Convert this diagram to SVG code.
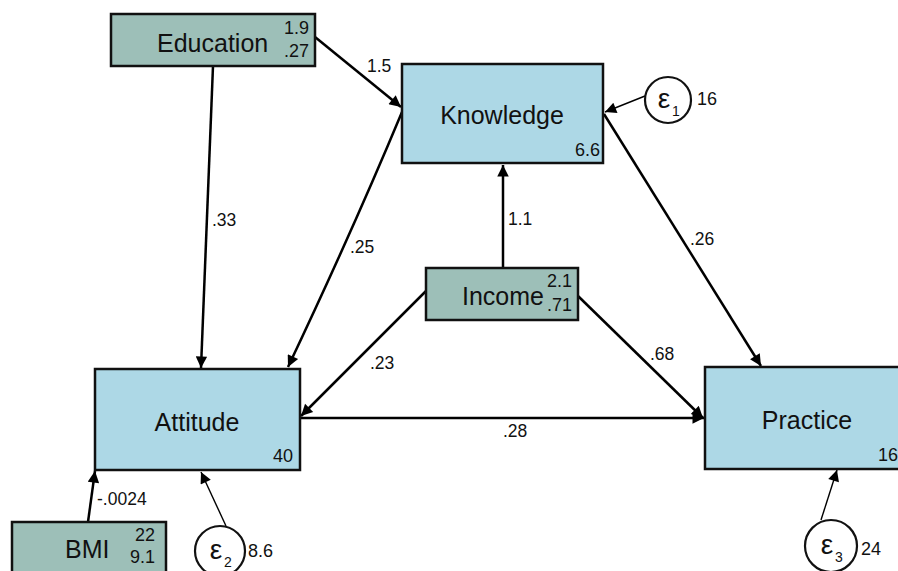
<svg xmlns="http://www.w3.org/2000/svg" width="898" height="571" viewBox="0 0 898 571">
<defs>
<marker id="ah" viewBox="0 0 10 10" refX="10" refY="5" markerWidth="6" markerHeight="4.6" markerUnits="strokeWidth" orient="auto">
<path d="M0,0 L10,5 L0,10 z" fill="#000"/>
</marker>
<marker id="ahs" viewBox="0 0 10 10" refX="10" refY="5" markerWidth="10" markerHeight="8" markerUnits="strokeWidth" orient="auto">
<path d="M0,0 L10,5 L0,10 z" fill="#000"/>
</marker>
</defs>
<style>
text{font-family:"Liberation Sans",Arial,Helvetica,sans-serif;fill:#111;}
.obs{fill:#9dbfb8;stroke:#111;stroke-width:2.5;}
.end{fill:#add8e6;stroke:#111;stroke-width:2.5;}
.err{fill:#fff;stroke:#111;stroke-width:2.2;}
.name{font-size:25px;}
.num{font-size:18px;}
.lbl{font-size:17.5px;}
.eps{font-size:28px;}
.sub{font-size:14px;}
.c{fill:none;stroke:#000;stroke-width:2.5;marker-end:url(#ah);}
.ce{fill:none;stroke:#000;stroke-width:1.4;marker-end:url(#ahs);}
</style>
<rect width="898" height="571" fill="#fff"/>
<g id="connectors">
<path class="c" d="M315,37 L401,107"/>
<path class="c" d="M213,66 L201,368"/>
<path class="c" d="M402,112 Q352,232 288,367"/>
<path class="c" d="M503,268 L503,165"/>
<path class="c" d="M426,291 L301,416"/>
<path class="c" d="M578,296 L703,418"/>
<path class="c" d="M604,114 L761,366"/>
<path class="c" d="M300,418 L704,418"/>
<path class="c" d="M88,522 L95,471"/>
<path class="ce" d="M645,96 L605,112"/>
<path class="ce" d="M226,526 L201,472"/>
<path class="ce" d="M821,520 L837,470"/>
<text class="lbl" x="367" y="72">1.5</text>
<text class="lbl" x="212" y="226">.33</text>
<text class="lbl" x="350" y="253">.25</text>
<text class="lbl" x="508" y="225">1.1</text>
<text class="lbl" x="370" y="369">.23</text>
<text class="lbl" x="650" y="360">.68</text>
<text class="lbl" x="690" y="245">.26</text>
<text class="lbl" x="503" y="437">.28</text>
<text class="lbl" x="97" y="505">-.0024</text>
</g>
<g id="education">
<rect class="obs" x="111" y="14" width="204" height="52"/>
<text class="name" x="157" y="52">Education</text>
<text class="num" x="309" y="34" text-anchor="end">1.9</text>
<text class="num" x="309" y="57" text-anchor="end">.27</text>
</g>
<g id="knowledge">
<rect class="end" x="402" y="64" width="201" height="99"/>
<text class="name" x="502" y="124" text-anchor="middle">Knowledge</text>
<text class="num" x="600" y="156" text-anchor="end">6.6</text>
</g>
<g id="income">
<rect class="obs" x="426" y="268" width="152" height="52"/>
<text class="name" x="462" y="305">Income</text>
<text class="num" x="572" y="287" text-anchor="end">2.1</text>
<text class="num" x="572" y="311" text-anchor="end">.71</text>
</g>
<g id="attitude">
<rect class="end" x="95" y="369" width="205" height="101"/>
<text class="name" x="197" y="431" text-anchor="middle">Attitude</text>
<text class="num" x="293" y="462" text-anchor="end">40</text>
</g>
<g id="practice">
<rect class="end" x="705" y="367" width="205" height="102"/>
<text class="name" x="807" y="429" text-anchor="middle">Practice</text>
<text class="num" x="878" y="461">16</text>
</g>
<g id="bmi">
<rect class="obs" x="12" y="522" width="154" height="60"/>
<text class="name" x="65" y="558">BMI</text>
<text class="num" x="155" y="541" text-anchor="end">22</text>
<text class="num" x="155" y="563" text-anchor="end">9.1</text>
</g>
<g id="e1">
<circle class="err" cx="668" cy="100" r="23"/>
<text class="eps" x="664" y="108" text-anchor="middle">ε</text>
<text class="sub" x="676" y="116" text-anchor="middle">1</text>
<text class="num" x="697" y="105">16</text>
</g>
<g id="e2">
<circle class="err" cx="220" cy="551" r="25"/>
<text class="eps" x="216" y="559" text-anchor="middle">ε</text>
<text class="sub" x="228" y="567" text-anchor="middle">2</text>
<text class="num" x="248" y="557">8.6</text>
</g>
<g id="e3">
<circle class="err" cx="831" cy="546" r="26"/>
<text class="eps" x="827" y="554" text-anchor="middle">ε</text>
<text class="sub" x="839" y="562" text-anchor="middle">3</text>
<text class="num" x="861" y="555">24</text>
</g>
</svg>
